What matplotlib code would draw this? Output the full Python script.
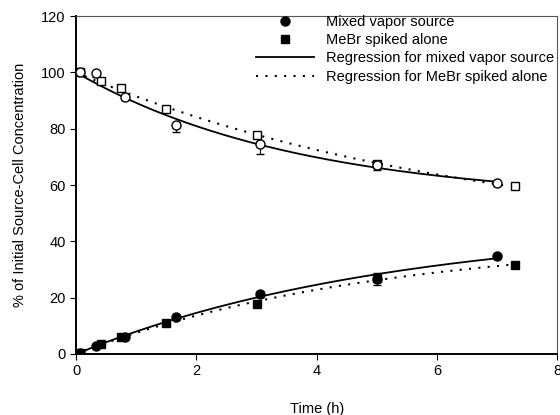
import numpy as np
import matplotlib
matplotlib.use("Agg")
import matplotlib.pyplot as plt
from matplotlib.lines import Line2D

# ================= DATOS =================
# Fuente mixta (circulos)
t_mix = [0.07, 0.33, 0.82, 1.66, 3.05, 5.0, 7.0]
src_mix = [100.0, 99.9, 91.4, 81.3, 74.5, 67.0, 60.8]
src_mix_err = [0.0, 1.5, 1.0, 2.5, 3.5, 1.8, 1.3]
cell_mix = [0.5, 3.0, 5.9, 13.2, 21.2, 26.6, 34.8]
cell_mix_err = [0.0, 0.5, 0.5, 0.8, 0.8, 2.2, 0.8]

# MeBr solo (cuadrados)
t_mebr = [0.07, 0.41, 0.74, 1.5, 3.0, 5.0, 7.3]
src_mebr = [100.0, 97.1, 94.6, 87.0, 77.9, 67.5, 59.6]
cell_mebr = [0.5, 3.4, 6.1, 10.9, 17.8, 27.0, 31.6]

labels = ["Mixed vapor source", "MeBr spiked alone",
          "Regression for mixed vapor source", "Regression for MeBr spiked alone"]

DOTS = (0, (1, 3.5))


def ajuste(t, y, y0, t_fin):
    """
    Regresion y = y0 + A*(1 - exp(-k t)) a partir de los puntos
    """
    t = np.array(t)
    d = np.array(y) - y0
    mejor = None
    for k in np.linspace(0.01, 2.0, 400):
        b = 1 - np.exp(-k * t)
        A = np.dot(b, d) / np.dot(b, b)
        err = np.sum((d - A * b) ** 2)
        if mejor is None or err < mejor[0]:
            mejor = (err, k, A)
    _, k, A = mejor
    tt = np.linspace(0, t_fin, 200)
    return tt, y0 + A * (1 - np.exp(-k * tt))


plt.rcParams['font.family'] = ['Liberation Sans', 'DejaVu Sans']
fig = plt.figure(figsize=(5.6, 4.15), dpi=100)
ax = fig.add_axes([0.136, 0.147, 0.859, 0.814])

# Curvas de regresion
for t, y, y0, fin, ls in [(t_mix, src_mix, 100, 7.0, '-'), (t_mix, cell_mix, 0, 7.0, '-'),
                          (t_mebr, src_mebr, 100, 7.2, DOTS), (t_mebr, cell_mebr, 0, 7.2, DOTS)]:
    tt, yy = ajuste(t, y, y0, fin)
    ax.plot(tt, yy, color='black', linestyle=ls, linewidth=1.3 if ls == '-' else 1.5)

# Puntos fuente (abiertos)
ax.errorbar(t_mix, src_mix, yerr=[src_mix_err, [0]*len(src_mix_err)], fmt='o', mfc='white',
            mec='black', ms=6.5, ecolor='black', elinewidth=0.8, capsize=3, zorder=3)
ax.plot(t_mebr, src_mebr, 's', mfc='white', mec='black', ms=6, zorder=3)

# Puntos celda (rellenos)
ax.errorbar(t_mix, cell_mix, yerr=cell_mix_err, fmt='o', color='black', ms=6.5,
            elinewidth=0.8, capsize=3, zorder=4)
ax.plot(t_mebr, cell_mebr, 's', color='black', ms=6, zorder=4)

ax.set_xlim(0, 8)
ax.set_ylim(0, 120)
ax.set_xticks([0, 2, 4, 6, 8])
ax.set_yticks(range(0, 121, 20))
ax.tick_params(direction='out', length=4, labelsize=10.5)
for s in ['left', 'bottom']:
    ax.spines[s].set_linewidth(1.4)
for s in ['top', 'right']:
    ax.spines[s].set_linewidth(0.8)
    ax.spines[s].set_color('#555555')

ax.set_xlabel("Time (h)", fontsize=10.5, labelpad=17)
ax.set_ylabel("% of Initial Source-Cell Concentration", fontsize=10.5, labelpad=10)

handles = [Line2D([], [], marker='o', color='black', ls='none', ms=6.5),
           Line2D([], [], marker='s', color='black', ls='none', ms=6),
           Line2D([], [], color='black', ls='-', lw=1.3),
           Line2D([], [], color='black', ls=DOTS, lw=1.5)]
ax.legend(handles, labels, loc='upper right', bbox_to_anchor=(1.0, 1.013), frameon=False,
          fontsize=10.5, labelspacing=0.3, handlelength=4.0, borderaxespad=0,
          borderpad=0.2, handletextpad=0.8)

fig.savefig("out.png", dpi=100)
